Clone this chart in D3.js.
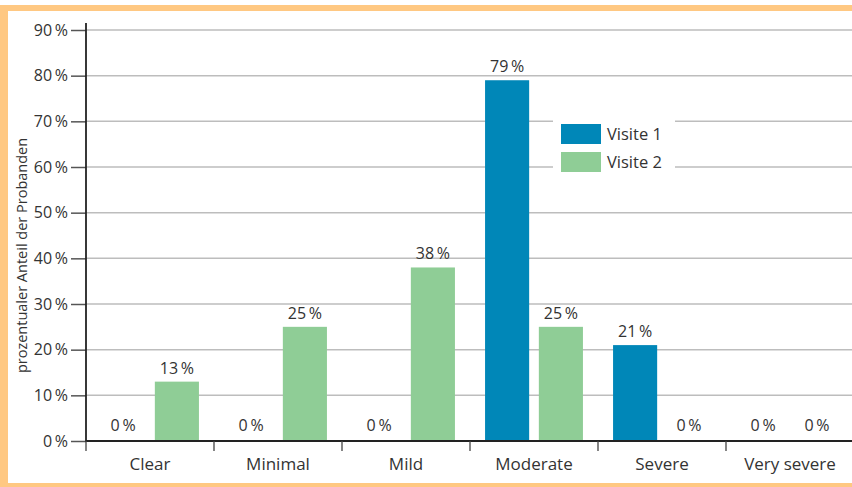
<!DOCTYPE html>
<html><head><meta charset="utf-8">
<script src="https://cdn.jsdelivr.net/npm/d3@7"></script>
<style>body{margin:0;background:#fff}svg{display:block}text{font-family:"Open Sans",sans-serif;fill:#333}</style>
</head><body>
<script>
const categories = ["Clear","Minimal","Mild","Moderate","Severe","Very severe"];
const seriesNames = ["Visite 1","Visite 2"];
const visite1 = [0,0,0,79,21,0];
const visite2 = [13,25,38,25,0,0];
const yTicks = [0,10,20,30,40,50,60,70,80,90];
const colors = ["#0087b8","#8fcd96"];
const yTitle = "prozentualer Anteil der Probanden";

const W=852,H=487;
const svg=d3.select("body").append("svg").attr("width",W).attr("height",H);
// frame
const orange="#ffc882";
svg.append("rect").attr("x",0).attr("y",5).attr("width",W).attr("height",6).attr("fill",orange);
svg.append("rect").attr("x",0).attr("y",5).attr("width",8).attr("height",H-5).attr("fill",orange);
svg.append("rect").attr("x",0).attr("y",483).attr("width",W).attr("height",4).attr("fill",orange);

const x0=86,x1=854,yb=441,yt=30;
const x=d3.scaleBand().domain(categories).range([x0,x1]);
const y=d3.scaleLinear().domain([0,90]).range([yb,yt]);
const xs=d3.scaleBand().domain(seriesNames).range([0,x.bandwidth()]).paddingInner(0.18).paddingOuter(0.28);

// gridlines
svg.append("g").selectAll("line").data(yTicks.filter(d=>d>0)).join("line")
 .attr("x1",x0).attr("x2",W).attr("y1",d=>y(d)).attr("y2",d=>y(d))
 .attr("stroke","#bdbdbd").attr("stroke-width",1.5);

// y axis
const ya=svg.append("g").attr("transform",`translate(${x0},0)`)
 .call(d3.axisLeft(y).tickValues(yTicks).tickSize(15).tickPadding(3).tickFormat(d=>d+"\u2009%"));
ya.select(".domain").remove();
ya.selectAll(".tick line").attr("stroke","#555").attr("stroke-width",1.5);
ya.selectAll(".tick text").attr("font-size",16).attr("fill","#333");
svg.append("line").attr("x1",x0).attr("x2",x0).attr("y1",yt-7).attr("y2",yb+1).attr("stroke","#222").attr("stroke-width",1.8);

// legend background
const lg=svg.append("g");
lg.append("rect").attr("x",553).attr("y",112).attr("width",122).attr("height",68).attr("fill","#fff");
seriesNames.forEach((s,i)=>{
  lg.append("rect").attr("x",561).attr("y",124+i*28).attr("width",40).attr("height",20).attr("fill",colors[i]);
  lg.append("text").attr("x",607).attr("y",134+i*28).attr("dy","0.35em").attr("font-size",16.5).text(s);
});

// bars
const data=categories.map((c,i)=>({c,vals:[visite1[i],visite2[i]]}));
const g=svg.append("g");
data.forEach(d=>{
  d.vals.forEach((v,j)=>{
    const bx=x(d.c)+xs(seriesNames[j]);
    if(v>0) g.append("rect").attr("x",bx).attr("y",y(v)).attr("width",xs.bandwidth()).attr("height",yb-y(v)).attr("fill",colors[j]);
    g.append("text").attr("x",bx+xs.bandwidth()/2).attr("y",v>0?y(v)-8:y(0)-10).attr("text-anchor","middle")
     .attr("font-size",16).text(v+"\u2009%");
  });
});

// x axis
const xa=svg.append("g").attr("transform",`translate(0,${yb})`).call(d3.axisBottom(x).tickSize(0).tickPadding(17));
xa.select(".domain").attr("d",`M${x0},0H${W}`).attr("stroke","#222").attr("stroke-width",1.8);
xa.selectAll(".tick text").attr("font-size",17).attr("fill","#333");
svg.append("g").selectAll("line").data(categories).join("line")
 .attr("x1",d=>x(d)).attr("x2",d=>x(d)).attr("y1",yb).attr("y2",yb+10).attr("stroke","#444").attr("stroke-width",1.3);

// y title
svg.append("text").attr("transform",`translate(27,${(yt+yb)/2+20}) rotate(-90)`).attr("text-anchor","middle")
 .attr("font-size",14.5).text(yTitle);
</script>
</body></html>
